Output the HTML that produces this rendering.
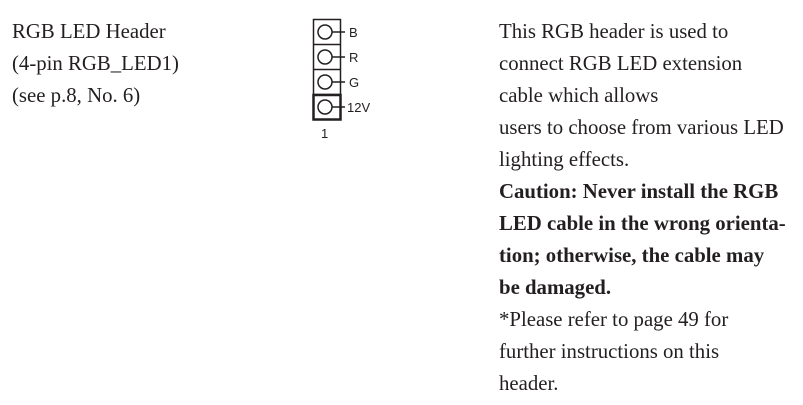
<!DOCTYPE html>
<html><head><meta charset="utf-8"><style>
body{margin:0;width:803px;height:405px;background:#fff;position:relative;overflow:hidden;font-family:"Liberation Serif",serif;color:#231f20}
.col{position:absolute;font-size:20.8px;line-height:32px;white-space:nowrap}
.col div{height:32px}
b{font-weight:bold}
</style></head><body>
<div class="col" style="left:12px;top:16px">
<div>RGB LED Header</div><div>(4-pin RGB_LED1)</div><div>(see p.8, No. 6)</div>
</div>
<div class="col" style="left:499px;top:16px">
<div>This RGB header is used to</div>
<div>connect RGB LED extension</div>
<div>cable which allows</div>
<div>users to choose from various LED</div>
<div>lighting effects.</div>
<div><b>Caution: Never install the RGB</b></div>
<div><b>LED cable in the wrong orienta-</b></div>
<div><b>tion; otherwise, the cable may</b></div>
<div><b>be damaged.</b></div>
<div>*Please refer to page 49 for</div>
<div>further instructions on this</div>
<div>header.</div>
</div>
<svg style="position:absolute;left:0;top:0" width="803" height="405">
<g stroke="#231f20" fill="none" stroke-width="1.5">
<rect x="313.5" y="19.5" width="27" height="100"/>
<line x1="313.5" y1="44.5" x2="340.5" y2="44.5"/>
<line x1="313.5" y1="69.5" x2="340.5" y2="69.5"/>
<line x1="313.5" y1="94.5" x2="340.5" y2="94.5"/>
<rect x="313.5" y="95" width="27" height="24.5" stroke-width="2.5"/>
<circle cx="325" cy="32" r="7"/><line x1="332" y1="32" x2="345" y2="32"/>
<circle cx="325" cy="57" r="7"/><line x1="332" y1="57" x2="345" y2="57"/>
<circle cx="325" cy="82" r="7"/><line x1="332" y1="82" x2="345" y2="82"/>
<circle cx="325" cy="107" r="7"/><line x1="332" y1="107" x2="345" y2="107"/>
</g>
<g font-family="Liberation Sans, sans-serif" font-size="13" fill="#231f20">
<text x="349" y="37">B</text>
<text x="349" y="62">R</text>
<text x="349" y="87">G</text>
<text x="347" y="112">12V</text>
<text x="321" y="138">1</text>
</g>
</svg>
</body></html>
